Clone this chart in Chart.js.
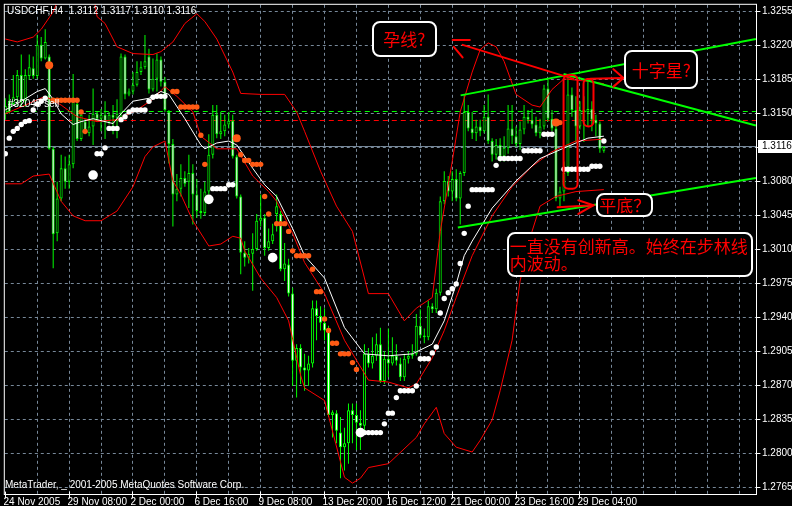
<!DOCTYPE html>
<html>
<head>
<meta charset="utf-8">
<title>USDCHF,H4</title>
<script src="https://cdn.jsdelivr.net/npm/chart.js@4.4.1/dist/chart.umd.min.js"></script>
<style>
  html, body { margin: 0; padding: 0; background: #000; }
  canvas { display: block; }
</style>
</head>
<body>
<canvas id="usdchf-chart" width="792" height="506"></canvas>
<script>
// candles, one per H4 bar (bar 0 = 24 Nov 2005)
const opens = [1.3150, 1.3163, 1.3160, 1.3167, 1.3190, 1.3163, 1.3189, 1.3197, 1.3189, 1.3221,
  1.3207, 1.3209, 1.3114, 1.3027, 1.3063, 1.3094, 1.3080, 1.3098, 1.3160, 1.3124,
  1.3142, 1.3130, 1.3137, 1.3150, 1.3145, 1.3149, 1.3142, 1.3149, 1.3146, 1.3150,
  1.3209, 1.3170, 1.3173, 1.3180, 1.3193, 1.3198, 1.3209, 1.3175, 1.3186, 1.3206,
  1.3183, 1.3152, 1.3119, 1.3067, 1.3073, 1.3084, 1.3080, 1.3089, 1.3067, 1.3050,
  1.3048, 1.3070, 1.3108, 1.3149, 1.3129, 1.3132, 1.3139, 1.3143, 1.3106, 1.3065,
  1.3007, 1.3002, 1.3006, 1.3011, 1.3040, 1.3043, 1.3012, 1.3019, 1.3047, 1.3047,
  1.2990, 1.2995, 1.2965, 1.2896, 1.2909, 1.2889, 1.2886, 1.2893, 1.2950, 1.2942,
  1.2935, 1.2927, 1.2840, 1.2842, 1.2822, 1.2807, 1.2811, 1.2845, 1.2840, 1.2832,
  1.2829, 1.2903, 1.2893, 1.2901, 1.2913, 1.2875, 1.2898, 1.2893, 1.2901, 1.2893,
  1.2879, 1.2898, 1.2901, 1.2903, 1.2932, 1.2922, 1.2920, 1.2952, 1.2949, 1.2966,
  1.3060, 1.3081, 1.3070, 1.3083, 1.3063, 1.3089, 1.3152, 1.3135, 1.3130, 1.3137,
  1.3132, 1.3147, 1.3122, 1.3108, 1.3118, 1.3106, 1.3115, 1.3135, 1.3127, 1.3119,
  1.3134, 1.3147, 1.3144, 1.3139, 1.3130, 1.3137, 1.3176, 1.3145, 1.3135, 1.3063,
  1.3070, 1.3089, 1.3170, 1.3154, 1.3137, 1.3154, 1.3152, 1.3155, 1.3144, 1.3140,
  1.3112]
const highs = [1.3166, 1.3170, 1.3190, 1.3195, 1.3211, 1.3196, 1.3211, 1.3209, 1.3231, 1.3229,
  1.3237, 1.3211, 1.3116, 1.3080, 1.3108, 1.3106, 1.3108, 1.3191, 1.3163, 1.3152,
  1.3145, 1.3149, 1.3176, 1.3152, 1.3155, 1.3163, 1.3152, 1.3159, 1.3165, 1.3212,
  1.3211, 1.3176, 1.3193, 1.3204, 1.3204, 1.3231, 1.3217, 1.3207, 1.3212, 1.3209,
  1.3188, 1.3154, 1.3124, 1.3088, 1.3098, 1.3091, 1.3108, 1.3098, 1.3083, 1.3073,
  1.3080, 1.3129, 1.3159, 1.3159, 1.3152, 1.3149, 1.3152, 1.3149, 1.3108, 1.3067,
  1.3019, 1.3012, 1.3027, 1.3047, 1.3067, 1.3047, 1.3032, 1.3037, 1.3067, 1.3050,
  1.3017, 1.3001, 1.2971, 1.2913, 1.2913, 1.2903, 1.2901, 1.2958, 1.2958, 1.2952,
  1.2950, 1.2932, 1.2845, 1.2845, 1.2838, 1.2827, 1.2852, 1.2852, 1.2852, 1.2845,
  1.2913, 1.2909, 1.2920, 1.2924, 1.2930, 1.2906, 1.2929, 1.2920, 1.2913, 1.2899,
  1.2903, 1.2906, 1.2913, 1.2944, 1.2949, 1.2929, 1.2958, 1.2955, 1.2970, 1.3065,
  1.3091, 1.3086, 1.3091, 1.3093, 1.3091, 1.3170, 1.3159, 1.3152, 1.3144, 1.3144,
  1.3159, 1.3170, 1.3125, 1.3124, 1.3125, 1.3127, 1.3159, 1.3159, 1.3137, 1.3142,
  1.3159, 1.3154, 1.3155, 1.3147, 1.3145, 1.3180, 1.3185, 1.3154, 1.3144, 1.3075,
  1.3101, 1.3190, 1.3177, 1.3168, 1.3163, 1.3168, 1.3185, 1.3163, 1.3149, 1.3142,
  1.3117]
const lows = [1.3144, 1.3150, 1.3158, 1.3157, 1.3157, 1.3157, 1.3185, 1.3186, 1.3186, 1.3204,
  1.3206, 1.3113, 1.2991, 1.3019, 1.3060, 1.3073, 1.3073, 1.3094, 1.3122, 1.3122,
  1.3129, 1.3127, 1.3118, 1.3142, 1.3132, 1.3124, 1.3139, 1.3129, 1.3125, 1.3145,
  1.3165, 1.3168, 1.3170, 1.3178, 1.3190, 1.3196, 1.3171, 1.3173, 1.3173, 1.3178,
  1.3152, 1.3099, 1.3034, 1.3060, 1.3065, 1.3075, 1.3053, 1.3036, 1.3043, 1.3042,
  1.3045, 1.3067, 1.3104, 1.3125, 1.3124, 1.3127, 1.3135, 1.3104, 1.3063, 1.2985,
  1.2993, 1.2996, 1.2968, 1.3009, 1.3034, 1.3004, 1.3009, 1.3016, 1.3029, 1.2988,
  1.2978, 1.2962, 1.2870, 1.2858, 1.2872, 1.2865, 1.2870, 1.2889, 1.2917, 1.2927,
  1.2917, 1.2838, 1.2817, 1.2811, 1.2775, 1.2783, 1.2790, 1.2811, 1.2804, 1.2804,
  1.2824, 1.2889, 1.2888, 1.2896, 1.2873, 1.2872, 1.2879, 1.2891, 1.2891, 1.2875,
  1.2875, 1.2893, 1.2898, 1.2901, 1.2919, 1.2914, 1.2917, 1.2945, 1.2945, 1.2963,
  1.3057, 1.3065, 1.3060, 1.3060, 1.3036, 1.3086, 1.3132, 1.3124, 1.3122, 1.3127,
  1.3130, 1.3119, 1.3101, 1.3103, 1.3101, 1.3101, 1.3109, 1.3119, 1.3116, 1.3113,
  1.3129, 1.3140, 1.3135, 1.3127, 1.3125, 1.3134, 1.3142, 1.3132, 1.3060, 1.3055,
  1.3060, 1.3086, 1.3147, 1.3121, 1.3134, 1.3121, 1.3137, 1.3132, 1.3127, 1.3110,
  1.3110]
const closes = [1.3158, 1.3152, 1.3167, 1.3190, 1.3163, 1.3190, 1.3198, 1.3189, 1.3221, 1.3207,
  1.3224, 1.3114, 1.3026, 1.3063, 1.3094, 1.3080, 1.3098, 1.3163, 1.3124, 1.3149,
  1.3130, 1.3137, 1.3150, 1.3145, 1.3149, 1.3142, 1.3149, 1.3146, 1.3150, 1.3209,
  1.3170, 1.3173, 1.3180, 1.3193, 1.3198, 1.3204, 1.3175, 1.3186, 1.3206, 1.3183,
  1.3154, 1.3119, 1.3067, 1.3073, 1.3084, 1.3078, 1.3089, 1.3067, 1.3050, 1.3048,
  1.3070, 1.3108, 1.3149, 1.3129, 1.3132, 1.3139, 1.3143, 1.3106, 1.3065, 1.3007,
  1.3002, 1.3006, 1.3011, 1.3040, 1.3043, 1.3012, 1.3019, 1.3026, 1.3055, 1.2990,
  1.2996, 1.2965, 1.2896, 1.2909, 1.2889, 1.2886, 1.2893, 1.2950, 1.2942, 1.2935,
  1.2927, 1.2840, 1.2843, 1.2824, 1.2807, 1.2811, 1.2845, 1.2840, 1.2832, 1.2829,
  1.2903, 1.2893, 1.2901, 1.2913, 1.2875, 1.2898, 1.2893, 1.2901, 1.2896, 1.2879,
  1.2898, 1.2901, 1.2903, 1.2932, 1.2922, 1.2920, 1.2952, 1.2949, 1.2966, 1.3060,
  1.3081, 1.3070, 1.3083, 1.3063, 1.3089, 1.3152, 1.3135, 1.3130, 1.3137, 1.3132,
  1.3147, 1.3122, 1.3108, 1.3118, 1.3106, 1.3115, 1.3135, 1.3127, 1.3119, 1.3134,
  1.3147, 1.3144, 1.3139, 1.3130, 1.3137, 1.3176, 1.3145, 1.3135, 1.3063, 1.3070,
  1.3089, 1.3170, 1.3154, 1.3137, 1.3154, 1.3152, 1.3155, 1.3144, 1.3140, 1.3114,
  1.3116]

// moving average (white)
const maBars = [0, 4, 8, 10, 12, 14, 17, 19, 22, 27, 29, 32, 36, 39, 41, 45, 49, 50, 53, 56,
  58, 62, 65, 68, 72, 75, 80, 85, 90, 96, 102, 107, 110, 113, 115, 117, 122, 128, 134, 139,
  143, 146, 150]
const maValues = [1.3154, 1.3163, 1.3173, 1.3176, 1.3165, 1.3150, 1.3139, 1.3142, 1.3145, 1.3140,
  1.3150, 1.3163, 1.3166, 1.3173, 1.3170, 1.3145, 1.3118, 1.3114, 1.3120, 1.3122,
  1.3118, 1.3094, 1.3077, 1.3065, 1.3032, 1.3004, 1.2981, 1.2930, 1.2903, 1.2901,
  1.2903, 1.2913, 1.2937, 1.2975, 1.3004, 1.3019, 1.3053, 1.3081, 1.3104, 1.3113,
  1.3120, 1.3125, 1.3127]

// bollinger bands (red)
const bbMidBars = [0, 5, 10, 14, 18, 23, 28, 33, 37, 40, 43, 47, 49, 53, 58, 62, 66, 68, 72, 75,
  80, 85, 91, 96, 101, 103, 107, 110, 113, 117, 122, 127, 132, 137, 143, 150]
const bbMidValues = [1.3150, 1.3159, 1.3168, 1.3159, 1.3147, 1.3142, 1.3144, 1.3154, 1.3165, 1.3178,
  1.3168, 1.3152, 1.3127, 1.3114, 1.3114, 1.3086, 1.3070, 1.3060, 1.3027, 1.2997,
  1.2965, 1.2917, 1.2876, 1.2874, 1.2868, 1.2872, 1.2899, 1.2927, 1.2961, 1.3004,
  1.3045, 1.3075, 1.3096, 1.3111, 1.3122, 1.3124]
const bbUpperBars = [0, 3, 7, 9, 12, 14, 18, 22, 23, 25, 28, 32, 37, 39, 42, 45, 48, 50, 53, 57,
  59, 64, 70, 73, 75, 79, 83, 87, 91, 96, 100, 103, 107, 109, 112, 114, 117, 119, 121, 123,
  125, 128, 132, 134, 137, 140, 147, 150]
const bbUpperValues = [1.3227, 1.3224, 1.3229, 1.3237, 1.3255, 1.3275, 1.3296, 1.3275, 1.3250, 1.3243,
  1.3219, 1.3212, 1.3211, 1.3214, 1.3224, 1.3243, 1.3253, 1.3245, 1.3227, 1.3193,
  1.3171, 1.3170, 1.3170, 1.3152, 1.3132, 1.3091, 1.3055, 1.3029, 1.2965, 1.2965,
  1.2937, 1.2950, 1.2961, 1.3029, 1.3101, 1.3152, 1.3193, 1.3216, 1.3223, 1.3219,
  1.3204, 1.3170, 1.3159, 1.3157, 1.3175, 1.3186, 1.3183, 1.3181]
const bbLowerBars = [0, 4, 7, 11, 14, 17, 20, 24, 28, 32, 35, 37, 40, 42, 44, 47, 51, 54, 57, 59,
  60, 64, 68, 71, 74, 75, 80, 85, 87, 89, 91, 96, 103, 105, 108, 110, 113, 117, 119, 122,
  124, 127, 129, 132, 134, 138, 143, 150]
const bbLowerValues = [1.3078, 1.3078, 1.3086, 1.3088, 1.3060, 1.3045, 1.3040, 1.3040, 1.3050, 1.3075,
  1.3106, 1.3116, 1.3122, 1.3081, 1.3067, 1.3040, 1.3014, 1.3016, 1.3024, 1.3022,
  1.3009, 1.2981, 1.2961, 1.2937, 1.2881, 1.2868, 1.2855, 1.2776, 1.2770, 1.2775,
  1.2786, 1.2790, 1.2817, 1.2831, 1.2848, 1.2821, 1.2807, 1.2802, 1.2814, 1.2835,
  1.2865, 1.2917, 1.2978, 1.3029, 1.3055, 1.3065, 1.3070, 1.3072]

// parabolic SAR
const sarWhiteBars = [0, 1, 2, 3, 4, 5, 6, 7, 8, 9, 10,
  22, 23, 24, 25, 26, 27, 28, 29, 30, 31, 32, 33, 34, 35, 36, 37, 38, 39, 40,
  51, 52, 53, 54, 55, 56, 57,
  67,
  89, 90, 91, 92, 93, 94, 95, 96, 97, 98, 99, 100, 101, 102, 103, 104, 105, 106, 107, 108,
  109, 110, 111, 112, 113, 114, 115, 116, 117, 118, 119, 120, 121, 122, 123, 124, 125, 126, 127, 128,
  129, 130, 131, 132, 133, 134, 135, 136, 137,
  140, 141, 142, 143, 144, 145, 146, 147, 148, 149, 150]
const sarWhiteValues = [1.3109, 1.3125, 1.3132, 1.3135, 1.3139, 1.3142, 1.3143, 1.3154, 1.3160, 1.3163, 1.3166,
  1.3087, 1.3109, 1.3109, 1.3115, 1.3135, 1.3135, 1.3135, 1.3144, 1.3147, 1.3152, 1.3154, 1.3154, 1.3154, 1.3154, 1.3163, 1.3167, 1.3168, 1.3168, 1.3168,
  1.3062, 1.3073, 1.3073, 1.3073, 1.3073, 1.3077, 1.3077,
  1.3002,
  1.2822, 1.2822, 1.2822, 1.2822, 1.2822, 1.2822, 1.2831, 1.2842, 1.2842, 1.2858, 1.2865, 1.2865, 1.2865, 1.2865, 1.2870, 1.2898, 1.2898, 1.2898, 1.2904, 1.2910,
  1.2945, 1.2960, 1.2966, 1.2970, 1.2975, 1.2996, 1.3027, 1.3055, 1.3072, 1.3072, 1.3072, 1.3072, 1.3072, 1.3072, 1.3097, 1.3104, 1.3104, 1.3104, 1.3104, 1.3104,
  1.3104, 1.3112, 1.3112, 1.3112, 1.3112, 1.3112, 1.3129, 1.3129, 1.3129,
  1.3093, 1.3093, 1.3093, 1.3093, 1.3093, 1.3093, 1.3093, 1.3096, 1.3096, 1.3096, 1.3122]
const sarWhiteBig = [22, 51, 67, 89]
const sarOrangeBars = [11, 12, 13, 14, 15, 16, 17, 18, 19, 20,
  42, 43, 44, 45, 46, 47, 48, 49, 50,
  58, 59, 60, 61, 62, 63, 64, 65, 66,
  68, 69, 70, 71, 72, 73, 74, 75, 76, 77, 78, 79, 80, 81, 82, 83, 84, 85, 86, 87, 88,
  138, 139]
const sarOrangeValues = [1.3200, 1.3164, 1.3164, 1.3164, 1.3164, 1.3164, 1.3164, 1.3164, 1.3152, 1.3132,
  1.3173, 1.3173, 1.3157, 1.3157, 1.3157, 1.3157, 1.3157, 1.3128, 1.3098,
  1.3125, 1.3108, 1.3102, 1.3102, 1.3098, 1.3098, 1.3098, 1.3065, 1.3047,
  1.3037, 1.3037, 1.3037, 1.3029, 1.3009, 1.3004, 1.3004, 1.3004, 1.3004, 1.2990, 1.2967, 1.2967, 1.2939, 1.2927, 1.2914, 1.2914, 1.2903, 1.2903, 1.2903, 1.2894, 1.2887,
  1.3141, 1.3141]
const sarOrangeBig = [11, 58, 138]

// hand-drawn trend lines (green)
const trendTopBars = [114.1, 188.1]
const trendTopValues = [1.3169, 1.3227]
const trendFallBars = [139.9, 188.1]
const trendFallValues = [1.3191, 1.3138]
const trendBaseBars = [113.4, 188.1]
const trendBaseValues = [1.3033, 1.3084]

// axes and header
const timeLabelBars = [0, 16, 32, 48, 64, 80, 96, 112, 128, 144]
const timeLabels = ['24 Nov 2005', '29 Nov 08:00', '2 Dec 00:00', '6 Dec 16:00', '9 Dec 08:00',
  '13 Dec 20:00', '16 Dec 12:00', '21 Dec 00:00', '23 Dec 16:00', '29 Dec 04:00']
const priceTicks = [1.2765, 1.2800, 1.2835, 1.2870, 1.2905, 1.2940, 1.2975, 1.3010, 1.3045, 1.3080,
  1.3115, 1.3150, 1.3185, 1.3220, 1.3255]
const quote = ['USDCHF,H4', '1.3112', '1.3117', '1.3110', '1.3116']
const lastPrice = 1.3116
const stopLevel = 1.3152
const orderLevel = 1.3143

// annotations, in (bar, price)
const redStrokes = [
  [[112.1, 1.3226], [116.4, 1.3226]],
  [[112.4, 1.3219], [114.6, 1.3208]],
  [[114.6, 1.3221], [142.4, 1.3186]],
  [[146.6, 1.3186], [154.9, 1.3187]],
  [[152.4, 1.3196], [154.9, 1.3187], [152.4, 1.3178]],
  [[138.4, 1.3054], [147.4, 1.3056]],
  [[143.6, 1.3061], [147.4, 1.3056], [143.6, 1.3047]],
]
const redLoops = [[139.9, 1.3190, 143.4, 1.3073], [144.9, 1.3186, 147.4, 1.3137]]
const noteBoxes = [
  { from: [92.1, 1.3245], to: [107.9, 1.3209], lines: ['孕线?'], align: 'center' },
  { from: [155.4, 1.3215], to: [173.4, 1.3177], lines: ['十字星?'], align: 'center' },
  { from: [148.4, 1.3068], to: [162.1, 1.3045], lines: ['平底？'], align: 'center' },
  { from: [125.9, 1.3027], to: [187.1, 1.2983], lines: ['一直没有创新高。始终在步林线', '内波动。'], align: 'left' },
]

const axisFont = '10px "Liberation Sans", Arial, sans-serif'
const noteFont = '17px "Noto Sans CJK SC", sans-serif'

function toPoints(bars, values) {
  return bars.map((b, k) => ({ x: b, y: values[k] }))
}

function strokePath(ctx, pts) {
  ctx.beginPath()
  pts.forEach(([px, py], k) => (k === 0 ? ctx.moveTo(px, py) : ctx.lineTo(px, py)))
  ctx.stroke()
}

function roundBox(ctx, x0, y0, x1, y1, r) {
  ctx.beginPath()
  ctx.moveTo(x0 + r, y0)
  ctx.lineTo(x1 - r, y0)
  ctx.arcTo(x1, y0, x1, y0 + r, r)
  ctx.lineTo(x1, y1 - r)
  ctx.arcTo(x1, y1, x1 - r, y1, r)
  ctx.lineTo(x0 + r, y1)
  ctx.arcTo(x0, y1, x0, y1 - r, r)
  ctx.lineTo(x0, y0 + r)
  ctx.arcTo(x0, y0, x0 + r, y0, r)
  ctx.closePath()
}

const candleWicks = opens.map((o, i) => ({ x: i, y: [lows[i], highs[i]] }))
const candleBodies = opens.map((o, i) => {
  const lo = Math.min(o, closes[i])
  const hi = Math.max(o, closes[i])
  return { x: i, y: [lo, Math.max(hi, lo + 0.0001)] }
})
const bodyFill = opens.map((o, i) => (closes[i] > o ? '#000000' : '#ffffff'))

const mtChrome = {
  id: 'mtChrome',
  beforeDraw(chart) {
    const ctx = chart.ctx
    ctx.save()
    ctx.fillStyle = '#000000'
    ctx.fillRect(0, 0, chart.width, chart.height)
    ctx.restore()
  },
  beforeDatasetsDraw(chart) {
    const { ctx, chartArea: area, scales: { x, y } } = chart
    const rowY = (p) => Math.floor(y.getPixelForValue(p)) + 0.5
    ctx.save()
    ctx.lineWidth = 1
    ctx.strokeStyle = '#778899'
    ctx.setLineDash([3, 3])
    priceTicks.forEach((p) => strokePath(ctx, [[area.left, rowY(p)], [area.right, rowY(p)]]))
    for (let b = 8; b <= x.max; b += 8) {
      const px = Math.floor(x.getPixelForValue(b)) + 0.5
      strokePath(ctx, [[px, area.top], [px, area.bottom]])
    }
    ctx.setLineDash([5, 4])
    ctx.strokeStyle = '#00ff00'
    strokePath(ctx, [[area.left, rowY(stopLevel)], [area.right, rowY(stopLevel)]])
    ctx.strokeStyle = '#ff0000'
    strokePath(ctx, [[area.left, rowY(orderLevel)], [area.right, rowY(orderLevel)]])
    ctx.setLineDash([])
    ctx.strokeStyle = '#778899'
    strokePath(ctx, [[area.left, rowY(lastPrice)], [area.right, rowY(lastPrice)]])
    ctx.restore()
  },
  afterDatasetsDraw(chart) {
    const { ctx, chartArea: area, scales: { x, y } } = chart
    const pt = ([b, p]) => [x.getPixelForValue(b), y.getPixelForValue(p)]
    ctx.save()

    // red hand drawing
    ctx.strokeStyle = '#ff0000'
    ctx.lineWidth = 2
    ctx.lineCap = 'round'
    redStrokes.forEach((s) => strokePath(ctx, s.map(pt)))
    redLoops.forEach(([b0, p0, b1, p1]) => {
      const [x0, y0] = pt([b0, p0])
      const [x1, y1] = pt([b1, p1])
      roundBox(ctx, x0, y0, x1, y1, 5)
      ctx.stroke()
    })

    // note boxes
    noteBoxes.forEach((n) => {
      const [x0, y0] = pt(n.from)
      const [x1, y1] = pt(n.to)
      roundBox(ctx, Math.round(x0), Math.round(y0), Math.round(x1), Math.round(y1), 7)
      ctx.fillStyle = '#000000'
      ctx.fill()
      ctx.strokeStyle = '#ffffff'
      ctx.lineWidth = 2
      ctx.stroke()
      ctx.fillStyle = '#ff0000'
      ctx.font = noteFont
      ctx.textBaseline = 'middle'
      if (n.align === 'center') {
        ctx.textAlign = 'center'
        ctx.fillText(n.lines[0], (x0 + x1) / 2, (y0 + y1) / 2 + 1)
      } else {
        ctx.textAlign = 'left'
        n.lines.forEach((t, k) => ctx.fillText(t, x0 + 2, y0 + 13 + k * 17))
      }
    })

    // frame
    ctx.lineWidth = 1
    ctx.strokeStyle = '#ffffff'
    ctx.strokeRect(area.left - 0.5, area.top - 0.5, area.right - area.left + 1, area.bottom - area.top + 1)

    // price axis
    ctx.font = axisFont
    ctx.textAlign = 'left'
    ctx.textBaseline = 'middle'
    priceTicks.forEach((p) => {
      const py = Math.floor(y.getPixelForValue(p)) + 0.5
      strokePath(ctx, [[area.right, py], [area.right + 4, py]])
      if (Math.abs(p - lastPrice) > 0.0002) {
        ctx.fillStyle = '#ffffff'
        ctx.fillText(p.toFixed(4), area.right + 6, py)
      }
    })
    const bidY = Math.floor(y.getPixelForValue(lastPrice)) + 0.5
    ctx.fillStyle = '#ffffff'
    ctx.fillRect(area.right + 2, bidY - 6.5, 34, 13)
    ctx.fillStyle = '#000000'
    ctx.fillText(lastPrice.toFixed(4), area.right + 6, bidY)

    // time axis
    ctx.fillStyle = '#ffffff'
    ctx.textBaseline = 'top'
    timeLabelBars.forEach((b, k) => {
      const px = Math.floor(x.getPixelForValue(b)) + 0.5
      strokePath(ctx, [[px, area.bottom - 2], [px, area.bottom + 4]])
      ctx.fillText(timeLabels[k], px - 2, area.bottom + 3)
    })

    // header, order label, copyright
    ctx.textBaseline = 'middle'
    ctx.fillText(quote[0] + '  ' + quote.slice(1).join(' '), 7, 11)
    ctx.fillText('#32045 sell', 8, 104)
    ctx.fillText('MetaTrader, _ 2001-2005 MetaQuotes Software Corp.', 5, 485)
    ctx.restore()
  },
}

const lineStyle = { type: 'line', borderWidth: 1, pointRadius: 0, tension: 0, fill: false }

new Chart(document.querySelector('#usdchf-chart'), {
  type: 'bar',
  data: {
    datasets: [
      { type: 'line', data: toPoints(trendTopBars, trendTopValues), borderColor: '#00ff00', borderWidth: 2, pointRadius: 0, order: 1 },
      { type: 'line', data: toPoints(trendFallBars, trendFallValues), borderColor: '#00ff00', borderWidth: 2, pointRadius: 0, order: 1 },
      { type: 'line', data: toPoints(trendBaseBars, trendBaseValues), borderColor: '#00ff00', borderWidth: 2, pointRadius: 0, order: 1 },
      {
        type: 'scatter',
        data: toPoints(sarWhiteBars, sarWhiteValues),
        backgroundColor: '#ffffff',
        borderWidth: 0,
        pointRadius: (c) => (c.raw && sarWhiteBig.includes(c.raw.x) ? 4.8 : 2.7),
        order: 2,
      },
      {
        type: 'scatter',
        data: toPoints(sarOrangeBars, sarOrangeValues),
        backgroundColor: '#ff5a14',
        borderWidth: 0,
        pointRadius: (c) => (c.raw && sarOrangeBig.includes(c.raw.x) ? 4 : 2.7),
        order: 2,
      },
      { ...lineStyle, data: toPoints(maBars, maValues), borderColor: '#ffffff', order: 3 },
      { ...lineStyle, data: toPoints(bbMidBars, bbMidValues), borderColor: '#ff0000', order: 3 },
      { ...lineStyle, data: toPoints(bbUpperBars, bbUpperValues), borderColor: '#ff0000', order: 3 },
      { ...lineStyle, data: toPoints(bbLowerBars, bbLowerValues), borderColor: '#ff0000', order: 3 },
      {
        data: candleBodies,
        backgroundColor: bodyFill,
        borderColor: '#00ff00',
        borderWidth: 1,
        borderSkipped: false,
        inflateAmount: 0,
        grouped: false,
        categoryPercentage: 1,
        barPercentage: 1,
        maxBarThickness: 3,
        order: 4,
      },
      {
        data: candleWicks,
        backgroundColor: '#00ff00',
        borderWidth: 0,
        inflateAmount: 0,
        grouped: false,
        categoryPercentage: 1,
        barPercentage: 1,
        maxBarThickness: 1,
        order: 5,
      },
    ],
  },
  options: {
    responsive: false,
    animation: false,
    devicePixelRatio: 1,
    events: [],
    layout: { padding: { left: 3, top: 3, right: 36, bottom: 12 } },
    plugins: { legend: { display: false }, tooltip: { enabled: false } },
    scales: {
      x: { type: 'linear', display: false, min: -0.125, max: 188.125, offset: false },
      y: { type: 'linear', display: false, min: 1.27588, max: 1.32622 },
    },
  },
  plugins: [mtChrome],
})
</script>
</body>
</html>
